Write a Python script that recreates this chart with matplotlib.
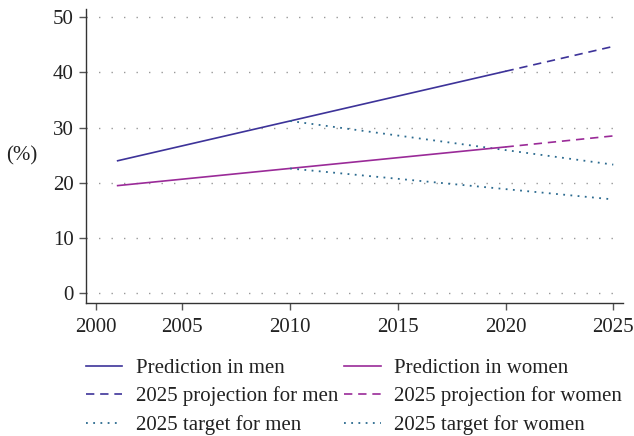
import matplotlib
matplotlib.use('Agg')
import matplotlib.pyplot as plt

# values
pred_years = [2002, 2020]
men_pred = [24.0, 40.2]
women_pred = [19.5, 26.5]

proj_years = [2020, 2025]
men_proj = [40.2, 44.7]
women_proj = [26.5, 28.5]

target_years = [2010, 2025]
men_target = [31.2, 23.3]
women_target = [22.6, 17.0]

# the first tick sits one year in, but is labelled 2000
xtick_pos = [2001, 2005, 2010, 2015, 2020, 2025]
xtick_labels = ['2000', '2005', '2010', '2015', '2020', '2025']
ytick_pos = [0, 10, 20, 30, 40, 50]

men_col = '#3d3399'
women_col = '#9a2a98'
target_col = '#2b6a8f'

plt.rcParams['font.family'] = ['Liberation Serif', 'DejaVu Serif']
plt.rcParams['font.size'] = 15

fig = plt.figure(figsize=(6.34, 4.36), dpi=100)
ax = fig.add_axes([0.1356, 0.3057, 0.847, 0.674])

for y in ytick_pos:
    ax.axhline(y, color='#999999', lw=1.0, ls=(0, (1, 8)), zorder=0)

dash = (0, (5, 3.5))
dot = (0, (1, 3))
l1, = ax.plot(pred_years, men_pred, color=men_col, lw=1.2, label='Prediction in men')
l2, = ax.plot(proj_years, men_proj, color=men_col, lw=1.2, ls=dash, label='2025 projection for men')
l3, = ax.plot(target_years, men_target, color=target_col, lw=1.3, ls=dot, label='2025 target for men')
l4, = ax.plot(pred_years, women_pred, color=women_col, lw=1.2, label='Prediction in women')
l5, = ax.plot(proj_years, women_proj, color=women_col, lw=1.2, ls=dash, label='2025 projection for women')
l6, = ax.plot(target_years, women_target, color=target_col, lw=1.3, ls=dot, label='2025 target for women')

ax.set_xlim(2000.53, 2025.45)
ax.set_ylim(-1.7, 51.5)
ax.set_xticks(xtick_pos)
ax.set_xticklabels(xtick_labels)
ax.set_yticks(ytick_pos)
ax.spines['top'].set_visible(False)
ax.spines['right'].set_visible(False)
for s in ['left', 'bottom']:
    ax.spines[s].set_color('#333333')
    ax.spines[s].set_linewidth(1.0)
ax.tick_params(length=5, width=1, color='#555555', labelcolor='#222222', pad=4)
ax.tick_params(axis='x', pad=6)
ax.set_ylabel('(%)', rotation=0, labelpad=22, va='center', color='#222222')

fig.legend(handles=[l1, l2, l3, l4, l5, l6], ncol=2, loc='upper left',
           bbox_to_anchor=(0.1226, 0.197), frameon=False, handlelength=1.73,
           handletextpad=0.67, columnspacing=0.29, labelspacing=0.41,
           borderaxespad=0, labelcolor='#222222')

plt.savefig('out.png', dpi=100)
